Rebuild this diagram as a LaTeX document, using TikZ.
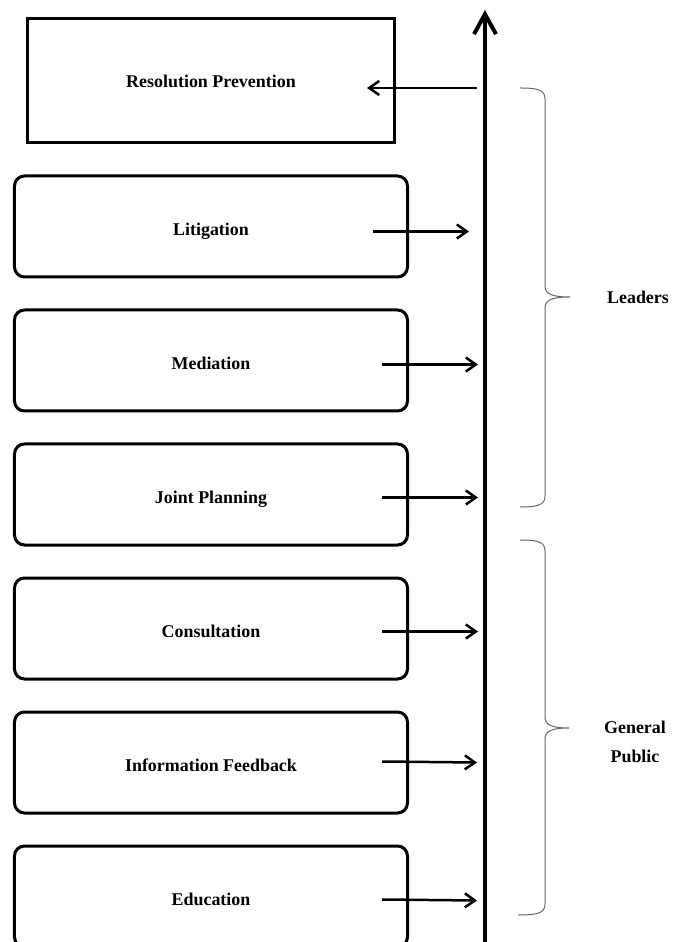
\documentclass[tikz,border=0pt]{standalone}
\usepackage{fontspec}
\setmainfont{Liberation Serif}
\usetikzlibrary{arrows.meta, positioning, calc}

\begin{document}
\begin{tikzpicture}[x=1bp, y=1bp,
    plain/.style={rectangle, draw, line width=3bp, minimum width=367bp, minimum height=124bp, text height=18bp, text depth=4bp, font=\fontsize{18}{22}\selectfont\bfseries, align=center},
    stage/.style={rectangle, draw, line width=3bp, rounded corners=10bp, minimum width=393bp, minimum height=101bp, text height=22bp, text depth=4bp, font=\fontsize{18}{22}\selectfont\bfseries, align=center},
    arr/.style={-{Straight Barb[length=10bp, width=14bp]}, line width=2.5bp},
    axis/.style={-{Straight Barb[length=20bp, width=22bp]}, line width=4bp},
    brc/.style={line width=1bp, black!60},
    grp/.style={font=\fontsize{18}{29}\selectfont\bfseries, align=center}
]
\useasboundingbox (0,0) rectangle (673,942);

\node[plain] (res) at (211,861) {Resolution Prevention};
\node[stage, below=30bp of res] (lit) {Litigation};
\node[stage, below=30bp of lit] (med) {Mediation};
\node[stage, below=30bp of med] (joint) {Joint Planning};
\node[stage, below=30bp of joint] (cons) {Consultation};
\node[stage, below=30bp of cons] (info) {Information Feedback};
\node[stage, below=30bp of info] (edu) {Education};

\coordinate (axbot) at (485,-10);
\coordinate (axtop) at (485,932);
\draw[axis] (axbot) -- (axtop);

\draw[arr] ($(res.east -| axtop)+(-8bp,-7bp)$) -- ([xshift=-29bp,yshift=-7bp]res.east);
\draw[arr] ([xshift=-36bp,yshift=-5bp]lit.east) -- ($(lit.east -| axtop)+(-16bp,-5bp)$);
\draw[arr] ([xshift=-27bp,yshift=-4bp]med.east) -- ($(med.east -| axtop)+(-7bp,-4bp)$);
\draw[arr] ([xshift=-27bp,yshift=-3bp]joint.east) -- ($(joint.east -| axtop)+(-7bp,-3bp)$);
\draw[arr] ([xshift=-27bp,yshift=-3bp]cons.east) -- ($(cons.east -| axtop)+(-7bp,-3bp)$);
\draw[arr] ([xshift=-27bp,yshift=1bp]info.east) -- ($(info.east -| axtop)+(-8bp,0bp)$);
\draw[arr] ([xshift=-27bp,yshift=-3bp]edu.east) -- ($(edu.east -| axtop)+(-8bp,-4bp)$);

% braces
\draw[brc] (520,854) .. controls (538,854) and (545,852) .. (545,843) -- (545,656)
    .. controls (545,648) and (552,645) .. (570,645) .. controls (552,645) and (545,642) .. (545,634)
    -- (545,446) .. controls (545,437) and (538,435) .. (520,435);
\draw[brc] (520,402) .. controls (538,402) and (545,400) .. (545,391) -- (545,225)
    .. controls (545,217) and (552,214) .. (569,214) .. controls (552,214) and (545,211) .. (545,203)
    -- (545,38) .. controls (545,29) and (538,27) .. (518,27);

\node[grp] (lead) at (638,645) {Leaders};
\node[grp] (pub) at (635,200) {General\\Public};
\end{tikzpicture}
\end{document}
